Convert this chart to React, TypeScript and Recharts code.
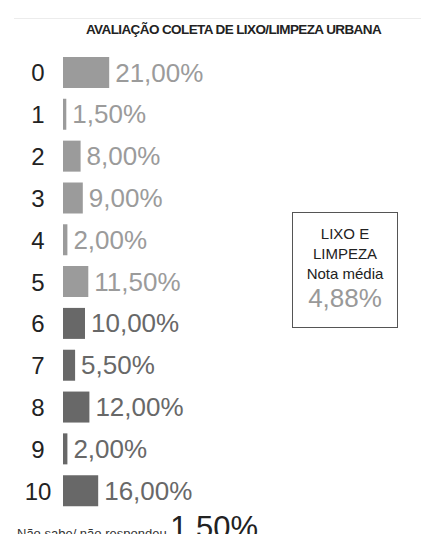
import { BarChart, Bar, XAxis, YAxis, Cell, LabelList } from 'recharts';

const notas = ['0', '1', '2', '3', '4', '5', '6', '7', '8', '9', '10'];
const percentuais = [21, 1.5, 8, 9, 2, 11.5, 10, 5.5, 12, 2, 16];
const titulo = 'AVALIAÇÃO COLETA DE LIXO/LIMPEZA URBANA';
const notaMedia = 4.88;
const naoSabe = 1.5;

const FONT = '"Liberation Sans", Arial, sans-serif';
const LIGHT = '#9b9b9b';
const DARK = '#686868';

const fmt = (v: number) => `${v.toFixed(2).replace('.', ',')}%`;

const data = notas.map((nota, i) => ({ nota, valor: percentuais[i] }));

const colorFor = (i: number) => (i >= 6 ? DARK : LIGHT);

export default function App() {
  return (
    <div
      style={{
        position: 'absolute',
        left: 0,
        top: 0,
        width: 421,
        height: 534,
        overflow: 'hidden',
        background: '#fff',
        fontFamily: FONT,
      }}
    >
      <div style={{ position: 'absolute', left: 14, right: 0, top: 18, height: 1, background: '#ececec' }} />
      <div
        style={{
          position: 'absolute',
          left: 0,
          width: 467,
          top: 22,
          textAlign: 'center',
          fontSize: 13.5,
          fontWeight: 'bold',
          letterSpacing: -0.6,
          color: '#222',
          whiteSpace: 'nowrap',
        }}
      >
        {titulo}
      </div>
      <BarChart
        width={421}
        height={534}
        data={data}
        layout="vertical"
        margin={{ top: 52, right: 138, bottom: 22, left: 8 }}
        barCategoryGap={0}
      >
        <XAxis type="number" domain={[0, 100]} hide />
        <YAxis
          type="category"
          dataKey="nota"
          width={55}
          axisLine={false}
          tickLine={false}
          tickMargin={19}
          tick={{ fontSize: 24, fill: '#222', fontFamily: FONT, textAnchor: 'middle' }}
        />
        <Bar dataKey="valor" barSize={31} isAnimationActive={false}>
          {data.map((d, i) => (
            <Cell key={d.nota} fill={colorFor(i)} />
          ))}
          <LabelList
            dataKey="valor"
            content={(p: any) => (
              <text
                x={Number(p.x) + Number(p.width) + 6}
                y={Number(p.y) + Number(p.height) / 2}
                dominantBaseline="central"
                fontSize={26}
                fontFamily={FONT}
                fill={colorFor(p.index ?? 0)}
              >
                {fmt(Number(p.value))}
              </text>
            )}
          />
        </Bar>
      </BarChart>
      <div
        style={{
          position: 'absolute',
          left: 292,
          top: 212,
          width: 104,
          height: 114,
          border: '1px solid #555',
          textAlign: 'center',
          color: '#222',
        }}
      >
        <div style={{ fontSize: 15, lineHeight: '20px', marginTop: 11 }}>LIXO E</div>
        <div style={{ fontSize: 15, lineHeight: '20px' }}>LIMPEZA</div>
        <div style={{ fontSize: 15, lineHeight: '20px' }}>Nota média</div>
        <div style={{ fontSize: 26, lineHeight: '28px', color: '#999' }}>{fmt(notaMedia)}</div>
      </div>
      <div
        style={{
          position: 'absolute',
          left: 17,
          top: 510,
          whiteSpace: 'nowrap',
          color: '#333',
        }}
      >
        <span style={{ fontSize: 13 }}>Não sabe/ não respondeu </span>
        <span style={{ fontSize: 31, color: '#222' }}>{fmt(naoSabe)}</span>
      </div>
    </div>
  );
}
